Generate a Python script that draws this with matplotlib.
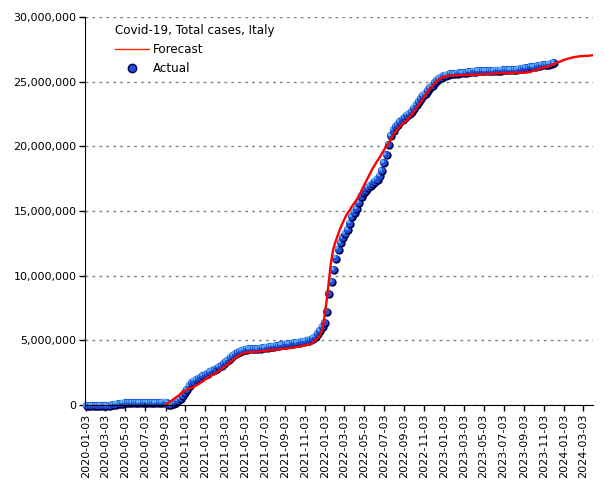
import numpy as np
import pandas as pd
import matplotlib
matplotlib.use("Agg")
import matplotlib.pyplot as plt
import matplotlib.dates as mdates
import matplotlib.transforms as mtransforms
from matplotlib.lines import Line2D
from matplotlib.ticker import FuncFormatter

# weekly values, millions of cases
actual_start = "2020-01-03"
actual_cases = [
    0, 0, 0, 0, 0, 0, 0, 0, 0.001, 0.005,
    0.018, 0.047, 0.086, 0.12, 0.147, 0.172, 0.192, 0.207, 0.218, 0.223,
    0.228, 0.231, 0.234, 0.236, 0.238, 0.24, 0.242, 0.243, 0.245, 0.247,
    0.249, 0.251, 0.254, 0.258, 0.263, 0.272, 0.12, 0.1, 0.15, 0.25,
    0.4, 0.55, 0.8, 1.0, 1.25, 1.55, 1.75, 1.9, 2.0, 2.1,
    2.2, 2.33, 2.42, 2.5, 2.6, 2.7, 2.8, 2.9, 3.0, 3.1,
    3.25, 3.4, 3.55, 3.7, 3.85, 4.0, 4.1, 4.2, 4.28, 4.33,
    4.36, 4.38, 4.39, 4.4, 4.41, 4.42, 4.44, 4.47, 4.5, 4.52,
    4.55, 4.58, 4.6, 4.63, 4.66, 4.69, 4.72, 4.75, 4.77, 4.8,
    4.83, 4.86, 4.88, 4.91, 4.94, 4.98, 5.02, 5.07, 5.13, 5.22,
    5.35, 5.55, 5.8, 6.1, 6.4, 7.3, 8.7, 9.6, 10.5, 11.4,
    12.1, 12.6, 13.0, 13.3, 13.6, 14.1, 14.6, 14.95, 15.25, 15.7,
    16.2, 16.45, 16.65, 16.85, 17.0, 17.2, 17.35, 17.5, 17.75, 18.15,
    18.8, 19.4, 20.2, 20.9, 21.3, 21.55, 21.75, 21.95, 22.15, 22.25,
    22.45, 22.55, 22.75, 23.0, 23.25, 23.5, 23.75, 23.95, 24.1, 24.35,
    24.6, 24.75, 24.95, 25.1, 25.25, 25.4, 25.5, 25.55, 25.6, 25.65,
    25.67, 25.68, 25.7, 25.72, 25.73, 25.75, 25.77, 25.8, 25.82, 25.85,
    25.86, 25.87, 25.88, 25.88, 25.89, 25.9, 25.9, 25.91, 25.92, 25.93,
    25.93, 25.94, 25.95, 25.96, 25.97, 25.97, 25.98, 25.99, 26.0, 26.02,
    26.05, 26.08, 26.12, 26.15, 26.18, 26.2, 26.23, 26.26, 26.3, 26.33,
    26.36, 26.38, 26.4, 26.45, 26.5,
]

forecast_start = "2020-09-04"
forecast_cases = [
    0.05, 0.15, 0.28, 0.42, 0.55, 0.68, 0.8, 0.95, 1.08, 1.18,
    1.27, 1.33, 1.4, 1.5, 1.6, 1.72, 1.85, 1.98, 2.1, 2.2,
    2.3, 2.4, 2.5, 2.62, 2.75, 2.88, 3.0, 3.15, 3.3, 3.45,
    3.6, 3.72, 3.85, 3.95, 4.02, 4.06, 4.08, 4.1, 4.11, 4.12,
    4.13, 4.15, 4.17, 4.19, 4.21, 4.23, 4.25, 4.27, 4.29, 4.31,
    4.33, 4.35, 4.37, 4.39, 4.41, 4.43, 4.46, 4.49, 4.52, 4.56,
    4.6, 4.63, 4.66, 4.7, 4.8, 4.95, 5.15, 5.3, 5.7, 6.5,
    7.8, 9.3, 10.9, 12.0, 12.6, 13.1, 13.6, 14.0, 14.4, 14.75,
    15.0, 15.3, 15.55, 15.8, 16.1, 16.4, 16.8, 17.15, 17.5, 17.85,
    18.2, 18.5, 18.8, 19.05, 19.35, 19.65, 19.95, 20.2, 20.45, 20.8,
    21.05, 21.3, 21.5, 21.7, 21.85, 22.0, 22.2, 22.4, 22.6, 22.85,
    23.1, 23.35, 23.6, 23.9, 24.15, 24.4, 24.6, 24.8, 25.0, 25.15,
    25.27, 25.35, 25.42, 25.45, 25.47, 25.48, 25.49, 25.5, 25.5, 25.51,
    25.51, 25.52, 25.52, 25.53, 25.53, 25.54, 25.55, 25.56, 25.57, 25.58,
    25.59, 25.6, 25.61, 25.62, 25.64, 25.65, 25.66, 25.67, 25.67, 25.68,
    25.68, 25.69, 25.69, 25.7, 25.7, 25.7, 25.7, 25.71, 25.72, 25.75,
    25.82, 25.88, 25.92, 25.98, 26.05, 26.1, 26.15, 26.2, 26.25, 26.35,
    26.42, 26.5, 26.55, 26.62, 26.7, 26.75, 26.8, 26.85, 26.9, 26.92,
    26.95, 26.97, 26.98, 27.0, 27.0, 27.02, 27.04,
]

title = "Covid-19, Total cases, Italy"

actual_dates = pd.date_range(actual_start, periods=len(actual_cases), freq="7D")
forecast_dates = pd.date_range(forecast_start, periods=len(forecast_cases), freq="7D")
actual_y = np.array(actual_cases) * 1e6
forecast_y = np.array(forecast_cases) * 1e6

plt.rcParams["font.family"] = "DejaVu Sans"
fig = plt.figure(figsize=(6.05, 4.8), dpi=100)
ax = fig.add_axes([0.1405, 0.156, 0.8395, 0.8085])

# fake shaded spheres: dark shadow, body, highlight
shadow = mtransforms.offset_copy(ax.transData, fig=fig, x=0.7, y=-0.7, units="points")
light = mtransforms.offset_copy(ax.transData, fig=fig, x=-0.9, y=0.9, units="points")
for d, v in zip(actual_dates, actual_y):
    ax.plot([d], [v], "o", ms=6, color="#000048", mew=0, transform=shadow, zorder=2, clip_on=False)
    ax.plot([d], [v], "o", ms=5.2, color="#1d4fd8", mew=0, zorder=2, clip_on=False)
    ax.plot([d], [v], "o", ms=2.6, color="#5aaaf8", mew=0, transform=light, zorder=2, clip_on=False)

ax.plot(forecast_dates, forecast_y, color="#ff0000", lw=1.7, zorder=3)

ax.set_xlim(pd.Timestamp("2020-01-01"), pd.Timestamp("2024-04-01"))
ax.set_ylim(0, 30e6)
ax.set_yticks(np.arange(0, 30e6 + 1, 5e6))
ax.yaxis.set_major_formatter(FuncFormatter(lambda v, p: f"{int(v):,}"))
ax.xaxis.set_major_locator(mdates.MonthLocator(bymonth=[1, 3, 5, 7, 9, 11], bymonthday=3))
ax.xaxis.set_major_formatter(mdates.DateFormatter("%Y-%m-%d"))
plt.setp(ax.get_xticklabels(), rotation=90)
ax.tick_params(axis="both", labelsize=8, length=4, width=1, direction="out", pad=2)

ax.grid(axis="y", color="#808080", linestyle=(0, (2, 3)), linewidth=1)
ax.spines["top"].set_visible(False)
ax.spines["right"].set_visible(False)

handles = [
    Line2D([], [], color="#ff2a00", lw=1),
    Line2D([], [], marker="o", ls="none", color="#1d4fd8", mec="#000048", ms=6),
]
leg = ax.legend(handles, ["Forecast", "Actual"], title=title, loc="upper left",
                bbox_to_anchor=(0.05, 0.995), frameon=False, fontsize=8.6,
                title_fontsize=8.6, handlelength=2.8, handletextpad=0.35,
                borderaxespad=0, labelspacing=0.5, alignment="left")

fig.savefig("out.png", dpi=100)
